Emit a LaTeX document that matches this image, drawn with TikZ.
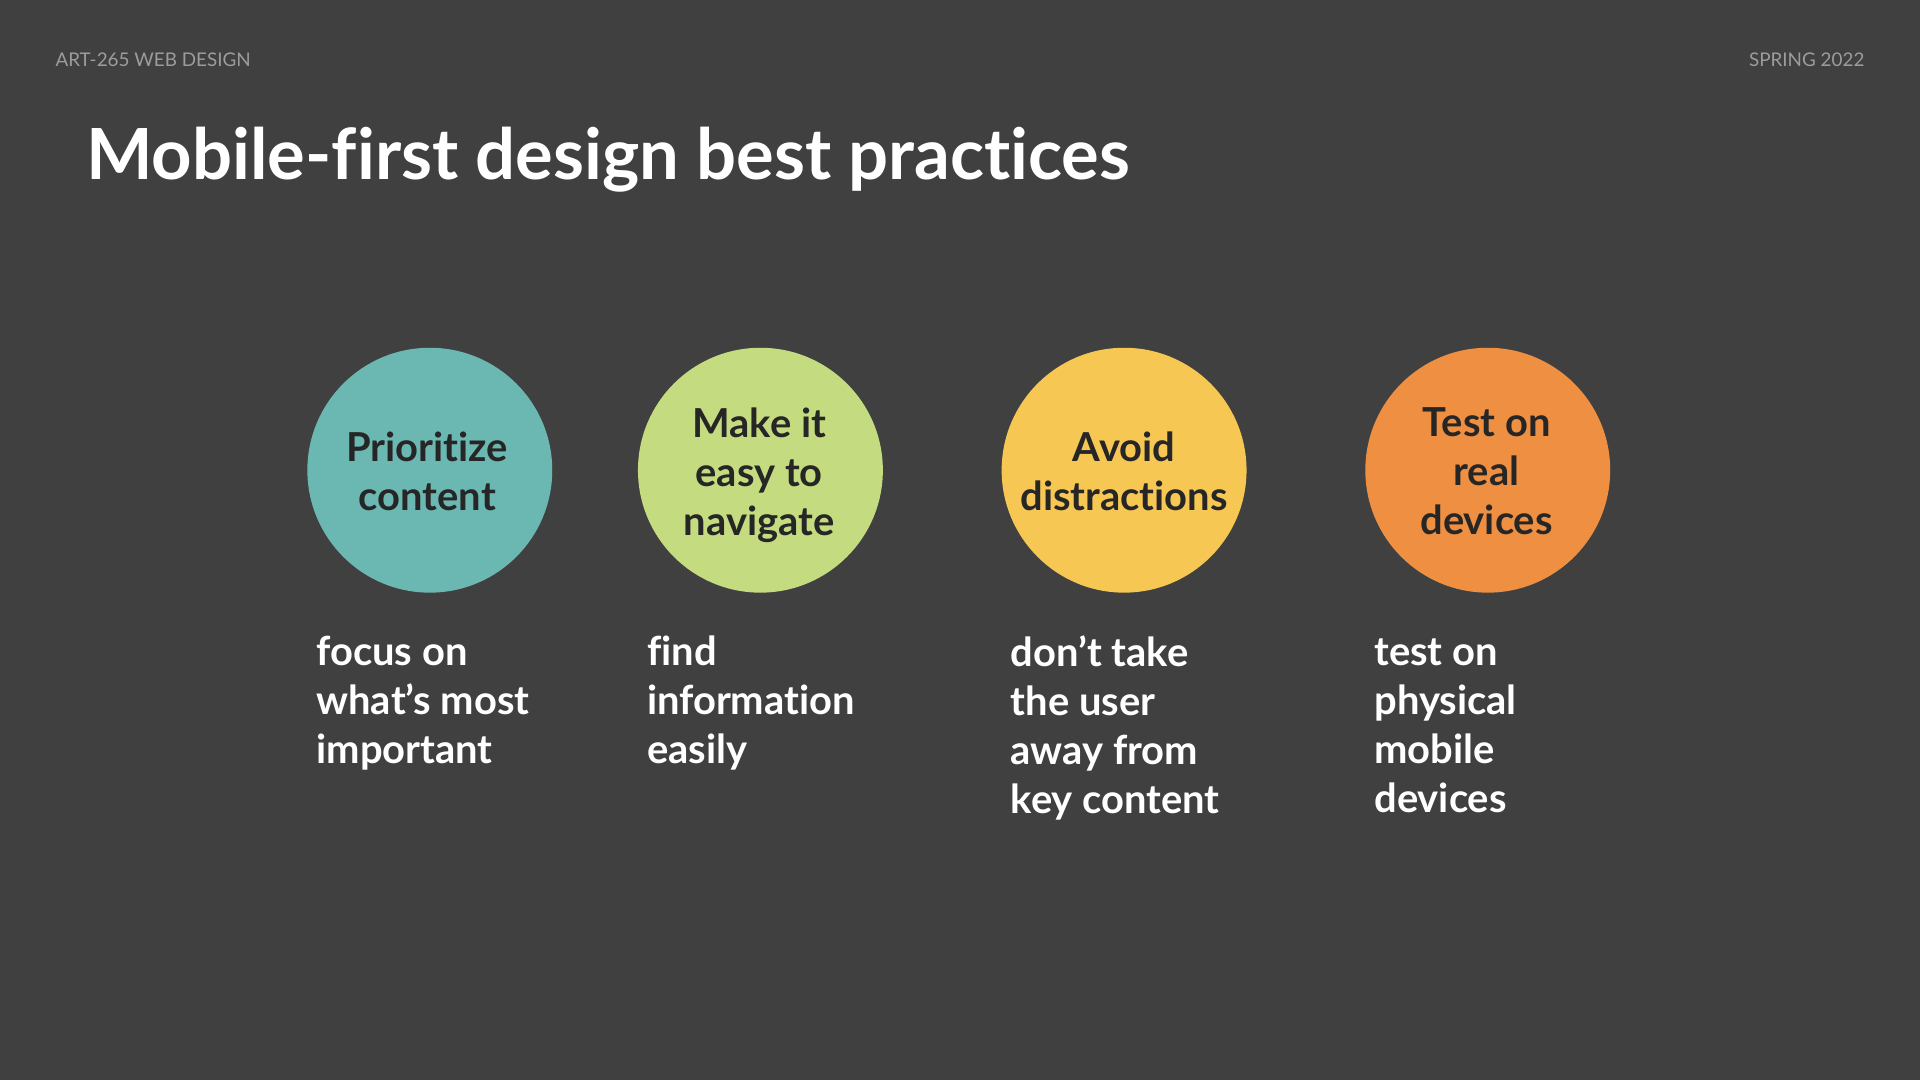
\documentclass[tikz,border=0pt]{standalone}
\usepackage{fontspec}
\setmainfont{Lato}[Ligatures=NoCommon]
\usetikzlibrary{positioning}
\definecolor{slate}{HTML}{404040}
\definecolor{ink}{HTML}{262626}
\definecolor{muted}{HTML}{9C9C9C}
\definecolor{tealdot}{HTML}{6BB8B2}
\definecolor{limedot}{HTML}{C5DB80}
\definecolor{sundot}{HTML}{F7C753}
\definecolor{orangedot}{HTML}{EF8F41}

\begin{document}
\begin{tikzpicture}[x=0.5pt,y=-0.5pt,
  bubble/.style={circle,minimum size=100pt,inner sep=0pt},
  bubbletext/.style={inner sep=0pt,align=center,text=ink,
    font=\fontsize{16.3}{20}\selectfont\bfseries},
  note/.style={anchor=north west,inner sep=0pt,align=left,text=white,
    font=\fontsize{16.3}{20}\selectfont\bfseries},
  corner/.style={inner sep=0pt,text=muted,font=\fontsize{7.7}{10}\selectfont}]
          \fill[slate] (0,0) rectangle (1568,882);
          \node (course) at (45,54) [corner,anchor=base west] {ART-265 WEB DESIGN};
          \node (term) at (1523,54) [corner,anchor=base east] {SPRING 2022};
          \node (title) at (70,147) [anchor=base west,inner sep=0pt,text=white,font=\fontsize{28.8}{34}\selectfont\bfseries]
          {Mobile-first design best practices};
          % circles
          \node (prio) at (351,384) [bubble,fill=tealdot] {};
          \node (nav) at (621,384) [bubble,fill=limedot] {};
          \node (calm) at (918,384) [bubble,fill=sundot] {};
          \node (test) at (1215,384) [bubble,fill=orangedot] {};
          \node (priotext) at (349,385) [bubbletext] {Prioritize\\content};
          \node (navtext) at (620,388) [bubbletext] {Make it\\easy to\\navigate};
          \node (calmtext) at (918,385) [bubbletext] {Avoid\\distractions};
          \node (testtext) at (1214,385) [bubbletext] {Test on\\real\\devices};
          % notes under the circles
          \node (prionote) at (258,519) [note] {focus on\\what’s most\\important};
          \node (navnote) at (528,519) [note] {find\\information\\easily};
          \node (calmnote) at (825,519) [note] {don’t take\\the user\\away from\\key content};
          \node (testnote) at (1122,521) [note] {test on\\physical\\mobile\\devices};
        \end{tikzpicture}
\end{document}
